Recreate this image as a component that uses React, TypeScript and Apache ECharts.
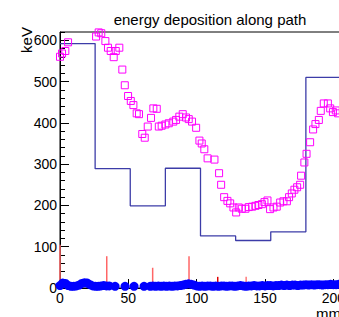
import React, { useEffect, useRef } from "react";
import * as echarts from "echarts";

// Histogram (step) – bin edges in mm and contents in keV
const binEdges = [0, 25.7, 51.4, 77.1, 102.8, 128.5, 154.2, 179.9, 205.6];
const binValues = [592, 289, 199, 290, 126, 115, 136, 510];

// Magenta open squares: position along path (mm) and energy (keV)
const pathMm = [
  0, 1.5, 3.9, 5.9, 26.4, 28.3, 30.2, 33.2, 35.1, 37.1, 39.3, 40.8, 43.4, 45.6, 47.4, 49.8,
  51.8, 53.7, 56.1, 57.8, 60.2, 62, 64.2, 66.6, 68.3, 70.8, 72.3, 74.4, 77.1, 79.6, 82.9,
  84.9, 87.3, 89.8, 92.2, 94.2, 96.6, 99.6, 102, 103.7, 105.6, 108, 113, 116.4, 117.9, 120.1,
  122.5, 124.5, 126.9, 128.9, 130.8, 133, 135.7, 138.1, 140.6, 143, 145.2, 147.7, 149.6,
  151.8, 153.7, 156.2, 158.6, 161.1, 163.5, 166, 167.6, 169.6, 171.5, 173.5, 175.7, 176.4,
  178.8, 180.4, 183, 185.2, 186.9, 189.4, 190.8, 193, 196, 197.7, 199.7, 201.8, 203.5,
];
const pathKeV = [
  560, 568, 574, 595, 609, 619, 617, 598, 582, 574, 559, 574, 582, 529, 491, 465,
  453, 443, 423, 421, 373, 364, 391, 412, 435, 434, 391, 393, 396, 399, 403,
  407, 415, 421, 413, 409, 403, 388, 357, 350, 336, 314, 311, 278, 250, 220,
  211, 205, 195, 183, 195, 192, 192, 196, 197, 199, 201, 203, 208,
  212, 191, 195, 197, 207, 210, 210, 220, 229, 238, 244, 250, 272,
  304, 325, 353, 384, 397, 407, 429, 447, 447, 435, 426, 430, 423,
];

// Blue filled dots near zero (steps)
const stepMm = [
  0, 2, 4, 6, 8, 10, 12, 14, 16, 18, 20, 22, 24, 26, 28, 30, 32, 34, 36,
  40.3, 47.6, 54.2, 61.5,
  66, 68, 70, 72, 74, 76, 78, 80, 82, 84, 86, 88, 90, 92, 94, 96, 98, 100, 102, 104, 106,
  108, 110, 112, 114, 116, 118, 120, 122, 124, 126, 128, 130, 132, 134, 136, 138, 140, 142,
  144, 146, 148, 150, 152, 154, 156, 158, 160, 162, 164, 166, 168, 170, 172, 174, 176, 178,
  180, 182, 184, 186, 188, 190, 192, 194, 196, 198, 200, 202, 204,
];
const stepKeV = [
  6, 12, 11, 6, 4, 4, 5, 7, 11, 13, 12, 8, 5, 4, 4, 5, 6, 5, 5,
  4, 4, 4, 4,
  4, 5, 4, 5, 4, 5, 4, 5, 4, 5, 5, 6, 7, 9, 10, 9, 7, 5, 4, 5, 4,
  5, 5, 4, 5, 4, 5, 5, 4, 5, 5, 4, 5, 6, 5, 4, 5, 5, 6,
  5, 5, 6, 5, 6, 6, 5, 6, 6, 7, 6, 7, 6, 7, 7, 6, 7, 7,
  8, 7, 8, 7, 8, 8, 7, 8, 8, 9, 8, 8, 9,
];

// Red vertical lines
const redMm = [0, 34.2, 67.8, 94.4, 115.4, 136.2];
const redKeV = [105, 77, 49, 77, 27, 27];
const redColors = ["#ff6666", "#ff6666", "#ff6666", "#ff6666", "#e00000", "#ff7a7a"];

const FONT = "Liberation Sans, Arial, Helvetica, sans-serif";
const CHART_W = 420;

export default function App() {
  const ref = useRef<HTMLDivElement>(null);
  useEffect(() => {
    if (!ref.current) return;
    const chart = echarts.init(ref.current, undefined, { renderer: "svg" });

    const histData: number[][] = binValues.map((v, i) => [binEdges[i], v]);
    histData.push([binEdges[binEdges.length - 1], binValues[binValues.length - 1]]);

    const xCommon = {
      type: "value" as const,
      min: 0,
      max: binEdges[binEdges.length - 1],
      splitLine: { show: false },
    };
    const yCommon = {
      type: "value" as const,
      min: 0,
      max: 620,
      splitLine: { show: false },
    };

    chart.setOption({
      animation: false,
      backgroundColor: "#ffffff",
      grid: {
        left: 60,
        top: 32,
        right: CHART_W - 341,
        bottom: 29,
        show: true,
        borderColor: "#000",
        borderWidth: 1,
        backgroundColor: "transparent",
      },
      xAxis: [
        {
          ...xCommon,
          interval: 50,
          axisLine: { show: true, lineStyle: { color: "#000", width: 1 } },
          axisTick: { show: true, inside: true, length: 9, lineStyle: { color: "#000" } },
          axisLabel: {
            show: true,
            margin: 3,
            color: "#000",
            fontSize: 14,
            fontFamily: FONT,
            showMaxLabel: false,
          },
        },
        {
          ...xCommon,
          position: "bottom",
          interval: 10,
          axisLine: { show: false },
          axisTick: { show: true, inside: true, length: 5, lineStyle: { color: "#000" } },
          axisLabel: { show: false },
        },
      ],
      yAxis: [
        {
          ...yCommon,
          interval: 100,
          axisLine: { show: true, lineStyle: { color: "#000", width: 1 } },
          axisTick: { show: true, inside: true, length: 9, lineStyle: { color: "#000" } },
          axisLabel: {
            show: true,
            margin: 3,
            color: "#000",
            fontSize: 14,
            fontFamily: FONT,
            showMaxLabel: false,
          },
        },
        {
          ...yCommon,
          position: "left",
          interval: 20,
          axisLine: { show: false },
          axisTick: { show: true, inside: true, length: 5, lineStyle: { color: "#000" } },
          axisLabel: { show: false },
        },
      ],
      graphic: [
        {
          type: "text",
          x: 210,
          y: 19,
          style: {
            text: "energy deposition along path",
            align: "center",
            verticalAlign: "middle",
            fontSize: 15,
            fontFamily: FONT,
            fill: "#000",
          },
        },
        {
          type: "text",
          x: 26,
          y: 40,
          rotation: Math.PI / 2,
          style: {
            text: "keV",
            align: "center",
            verticalAlign: "middle",
            fontSize: 15,
            fontFamily: FONT,
            fill: "#000",
          },
        },
        {
          type: "text",
          x: 341,
          y: 313,
          style: {
            text: "mm",
            align: "right",
            verticalAlign: "middle",
            fontSize: 15,
            fontFamily: FONT,
            fill: "#000",
          },
        },
      ],
      series: [
        {
          type: "bar",
          xAxisIndex: 0,
          yAxisIndex: 0,
          barWidth: 1.5,
          z: 3,
          data: redMm.map((x, i) => ({
            value: [x, redKeV[i]],
            itemStyle: { color: redColors[i] },
          })),
        },
        {
          type: "line",
          xAxisIndex: 0,
          yAxisIndex: 0,
          step: "end",
          symbol: "none",
          z: 4,
          lineStyle: { color: "#3c3ca8", width: 1.3 },
          data: histData,
        },
        {
          type: "scatter",
          xAxisIndex: 0,
          yAxisIndex: 0,
          symbol: "circle",
          symbolSize: 9,
          z: 5,
          itemStyle: { color: "#0000ff", opacity: 1 },
          data: stepMm.map((x, i) => [x, stepKeV[i]]),
        },
        {
          type: "scatter",
          xAxisIndex: 0,
          yAxisIndex: 0,
          symbol: "rect",
          symbolSize: 7,
          z: 6,
          itemStyle: { color: "rgba(0,0,0,0)", borderColor: "#ff00ff", borderWidth: 1, opacity: 1 },
          data: pathMm.map((x, i) => [x, pathKeV[i]]),
        },
      ],
    });
    return () => chart.dispose();
  }, []);

  return (
    <div
      style={{
        position: "fixed",
        left: 0,
        top: 0,
        width: 339,
        height: 317,
        overflow: "hidden",
        background: "#fff",
      }}
    >
      <div ref={ref} style={{ width: CHART_W, height: 317 }} />
    </div>
  );
}
